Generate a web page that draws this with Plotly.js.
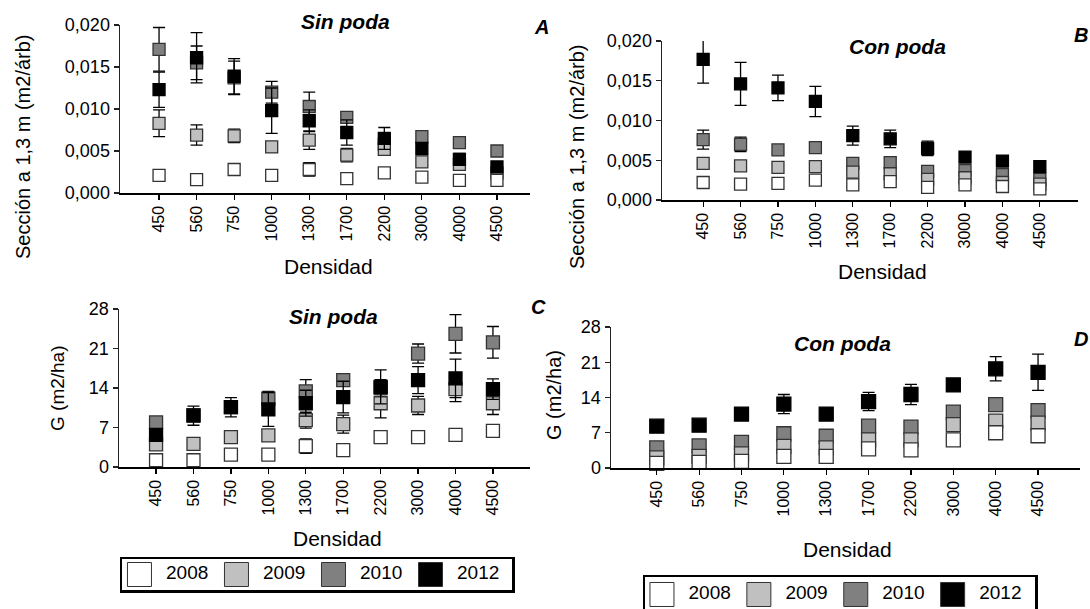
<!DOCTYPE html>
<html>
<head>
<meta charset="utf-8">
<script src="https://cdn.plot.ly/plotly-3.0.1.min.js"></script>
<style>html,body{margin:0;padding:0;background:#fff;}#chart{width:1090px;height:609px;}</style>
</head>
<body>
<div id="chart"></div>
<script>
// ---------- data ----------
const densidad = ['450','560','750','1000','1300','1700','2200','3000','4000','4500'];
const years = ['2008','2009','2010','2012'];

// Panel A: Sin poda, sección a 1,3 m (m2/árb)
const A2008 = [0.0021,0.0016,0.0028,0.0021,0.0028,0.0017,0.0024,0.0019,0.0015,0.0015];
const A2009 = [0.0083,0.0069,0.0068,0.0055,0.0063,0.0045,0.0052,0.0037,0.0034,0.0024];
const A2010 = [0.0171,0.0155,0.0137,0.0120,0.0103,0.0090,0.0058,0.0067,0.0060,0.0050];
const A2012 = [0.0123,0.0161,0.0139,0.0098,0.0086,0.0072,0.0065,0.0053,0.0040,0.0031];
const A2008e = [0.0003,0.0002,0.0005,0.0002,0.0008,0.0002,0.0002,0.0002,0.0002,0.0002];
const A2009e = [0.0016,0.0012,0.0008,0.0006,0.0011,0.0008,0.0006,0.0005,0.0004,0.0004];
const A2010e = [0.0026,0.0020,0.0020,0.0013,0.0017,0.0006,0.0008,0.0004,0.0006,0.0004];
const A2012e = [0.0021,0.0030,0.0021,0.0027,0.0013,0.0015,0.0013,0.0007,0.0007,0.0004];

// Panel B: Con poda, sección a 1,3 m (m2/árb)
const B2008 = [0.0022,0.0020,0.0021,0.0025,0.0019,0.0023,0.0016,0.0019,0.0017,0.0014];
const B2009 = [0.0046,0.0043,0.0041,0.0042,0.0035,0.0033,0.0026,0.0028,0.0022,0.0020];
const B2010 = [0.0076,0.0070,0.0063,0.0066,0.0046,0.0047,0.0036,0.0037,0.0032,0.0026];
const B2012 = [0.0177,0.0146,0.0141,0.0124,0.0081,0.0077,0.0065,0.0054,0.0049,0.0042];
const B2008e = [0.0002,0.0002,0.0002,0.0002,0.0002,0.0003,0.0002,0.0002,0.0002,0.0002];
const B2009e = [0.0004,0.0004,0.0004,0.0003,0.0004,0.0005,0.0004,0.0004,0.0003,0.0003];
const B2010e = [0.0012,0.0009,0.0004,0.0004,0.0005,0.0006,0.0004,0.0004,0.0004,0.0004];
const B2012e = [0.0030,0.0027,0.0016,0.0019,0.0012,0.0011,0.0009,0.0003,0.0003,0.0003];

// Panel C: Sin poda, G (m2/ha)
const C2008 = [1.2,1.2,2.2,2.2,3.7,3.0,5.3,5.3,5.7,6.4];
const C2009 = [4.0,4.1,5.3,5.6,8.3,7.6,11.3,10.9,13.8,11.3];
const C2010 = [7.9,9.2,10.6,12.1,13.4,15.4,14.0,20.1,23.6,22.1];
const C2012 = [5.7,9.1,10.6,10.2,11.3,12.4,14.2,15.4,15.7,13.8];
const C2008e = [0.5,0.5,0.4,0.4,1.3,0.4,0.5,0.4,0.5,0.5];
const C2009e = [0.6,0.6,0.6,0.6,1.4,1.6,2.6,1.6,2.2,2.0];
const C2010e = [0.6,1.0,1.0,1.3,2.1,1.1,1.5,1.7,3.4,2.8];
const C2012e = [0.9,1.7,1.7,3.0,2.3,2.8,3.0,2.4,3.4,1.8];

// Panel D: Con poda, G (m2/ha)
const D2008 = [0.9,1.1,1.3,2.3,2.3,3.8,3.6,5.6,7.0,6.4];
const D2009 = [2.0,2.3,2.8,4.3,4.0,5.6,5.6,8.6,9.3,8.9];
const D2010 = [4.0,4.4,5.1,6.8,6.3,8.3,8.1,11.1,12.6,11.4];
const D2012 = [8.3,8.5,10.7,12.7,10.7,13.2,14.6,16.5,19.7,19.0];
const D2008e = [0.3,0.3,0.3,0.4,0.4,0.5,0.5,0.6,0.8,1.3];
const D2009e = [0.3,0.3,0.3,0.4,0.4,0.5,0.5,0.6,0.8,0.9];
const D2010e = [0.4,0.4,0.4,0.5,0.5,0.5,0.5,0.6,0.8,1.2];
const D2012e = [0.4,0.5,0.5,1.9,0.8,1.8,2.0,0.6,2.4,3.6];

// ---------- styling ----------
const FONT = 'Liberation Sans, Arial, Helvetica, sans-serif';
const fill = {'2008':'#ffffff','2009':'#c0c0c0','2010':'#808080','2012':'#000000'};
const W = 1090, H = 609;
const px = v => v / W;
const py = v => 1 - v / H;

function series(xa, ya, yr, vals, errs, size) {
  return {
    type: 'scatter', mode: 'markers', name: yr,
    x: densidad, y: vals, xaxis: xa, yaxis: ya,
    showlegend: false, cliponaxis: false, hoverinfo: 'x+y+name',
    marker: {symbol: 'square', size: size, color: fill[yr],
             line: {color: yr === '2012' ? '#000' : '#333', width: 1.3}},
    error_y: {type: 'data', array: errs, visible: true, color: '#000', thickness: 1.3, width: 6}
  };
}
// draw order: 2010, 2009, 2008, 2012 (latest on top)
function panel(xa, ya, s, size) {
  return [
    series(xa, ya, '2010', s[2], s[6], size),
    series(xa, ya, '2009', s[1], s[5], size),
    series(xa, ya, '2008', s[0], s[4], size),
    series(xa, ya, '2012', s[3], s[7], size)
  ];
}

const data = [].concat(
  panel('x', 'y', [A2008,A2009,A2010,A2012,A2008e,A2009e,A2010e,A2012e], 12),
  panel('x2', 'y2', [B2008,B2009,B2010,B2012,B2008e,B2009e,B2010e,B2012e], 12),
  panel('x3', 'y3', [C2008,C2009,C2010,C2012,C2008e,C2009e,C2010e,C2012e], 13),
  panel('x4', 'y4', [D2008,D2009,D2010,D2012,D2008e,D2009e,D2010e,D2012e], 14)
);

// custom legends drawn as small category plots
function legendTrace(xa, ya) {
  return {
    type: 'scatter', mode: 'markers+text', x: years, y: years.map(() => 0),
    xaxis: xa, yaxis: ya, showlegend: false, cliponaxis: false, hoverinfo: 'skip',
    text: years.map(t => '\u00a0\u00a0' + t), textposition: 'middle right',
    textfont: {family: FONT, size: 19, color: '#000'},
    marker: {symbol: 'square', size: 24, color: years.map(t => fill[t]),
             line: {color: '#333', width: 1}}
  };
}
data.push(legendTrace('x5', 'y5'));
data.push(legendTrace('x6', 'y6'));

function xAxis(d0, d1, anchor, r) {
  return {
    domain: [px(d0), px(d1)], anchor: anchor, type: 'category', range: r,
    showline: true, linecolor: '#000', linewidth: 1.5, showgrid: false, zeroline: false,
    ticks: 'outside', ticklen: 5, tickwidth: 1.2, tickcolor: '#000',
    tickangle: -90, tickfont: {family: FONT, size: 16, color: '#000'}
  };
}
function yAxis(top, bottom, anchor, r, dtick, fmt) {
  return {
    domain: [py(bottom), py(top)], anchor: anchor, range: r,
    showline: true, linecolor: '#222', linewidth: 1.5, showgrid: false, zeroline: false,
    ticks: 'outside', ticklen: 5, tickwidth: 1.2, tickcolor: '#222',
    tick0: 0, dtick: dtick, tickformat: fmt,
    tickfont: {family: FONT, size: 18, color: '#000'}
  };
}
function boxAxis(d0, d1, anchor, extra) {
  return Object.assign({
    domain: [d0, d1], anchor: anchor, showline: true, mirror: true, linecolor: '#000',
    linewidth: 2.5, showgrid: false, zeroline: false, ticks: '', showticklabels: false,
    fixedrange: true
  }, extra || {});
}

function ann(text, x, y, size, angle) {
  return {text: text, xref: 'paper', yref: 'paper', x: px(x), y: py(y),
          xanchor: 'center', yanchor: 'middle', showarrow: false, textangle: angle || 0,
          font: {family: FONT, size: size, color: '#000'}};
}

const layout = {
  width: W, height: H, autosize: false,
  margin: {l: 0, r: 0, t: 0, b: 0},
  paper_bgcolor: '#fff', plot_bgcolor: 'rgba(0,0,0,0)',
  separators: ',.', showlegend: false,
  font: {family: FONT, color: '#000'},
  xaxis: xAxis(120, 530, 'y', [-1.04, 9.88]),
  yaxis: yAxis(25, 193, 'x', [0, 0.020], 0.005, '.3f'),
  xaxis2: xAxis(662, 1078, 'y2', [-1.1, 10.02]),
  yaxis2: yAxis(41, 200, 'x2', [0, 0.020], 0.005, '.3f'),
  xaxis3: xAxis(119, 530, 'y3', [-0.99, 9.99]),
  yaxis3: yAxis(309, 467, 'x3', [0, 28], 7, 'd'),
  xaxis4: xAxis(611, 1080, 'y4', [-1.08, 9.99]),
  yaxis4: yAxis(327, 468, 'x4', [0, 28], 7, 'd'),
  xaxis5: boxAxis(px(122), px(512), 'y5', {type: 'category', range: [-0.18, 3.84]}),
  yaxis5: boxAxis(py(590), py(559), 'x5', {range: [-1, 1]}),
  xaxis6: boxAxis(px(645), px(1035), 'y6', {type: 'category', range: [-0.175, 3.85], mirror: false, side: 'top'}),
  yaxis6: boxAxis(0, py(577), 'x6', {range: [-0.83, 1]}),
  annotations: [
    ann('<b><i>Sin poda</i></b>', 345, 22, 21),
    ann('<b><i>A</i></b>', 541, 27, 20),
    ann('<b><i>Con poda</i></b>', 897, 46, 21),
    ann('<b><i>B</i></b>', 1081, 35, 20),
    ann('<b><i>Sin poda</i></b>', 333, 316, 21),
    ann('<b><i>C</i></b>', 538, 307, 20),
    ann('<b><i>Con poda</i></b>', 842, 343, 21),
    ann('<b><i>D</i></b>', 1081, 339, 20),
    ann('Sección a 1,3 m (m2/árb)', 23, 147, 20, -90),
    ann('Sección a 1,3 m (m2/árb)', 577, 157, 20, -90),
    ann('G (m2/ha)', 57, 388, 19, -90),
    ann('G (m2/ha)', 554, 395, 20, -90),
    ann('Densidad', 328, 266, 21),
    ann('Densidad', 882, 271, 21),
    ann('Densidad', 337, 538, 21),
    ann('Densidad', 847, 549, 21)
  ]
};

Plotly.newPlot('chart', data, layout, {displayModeBar: false, staticPlot: true});
</script>
</body>
</html>
